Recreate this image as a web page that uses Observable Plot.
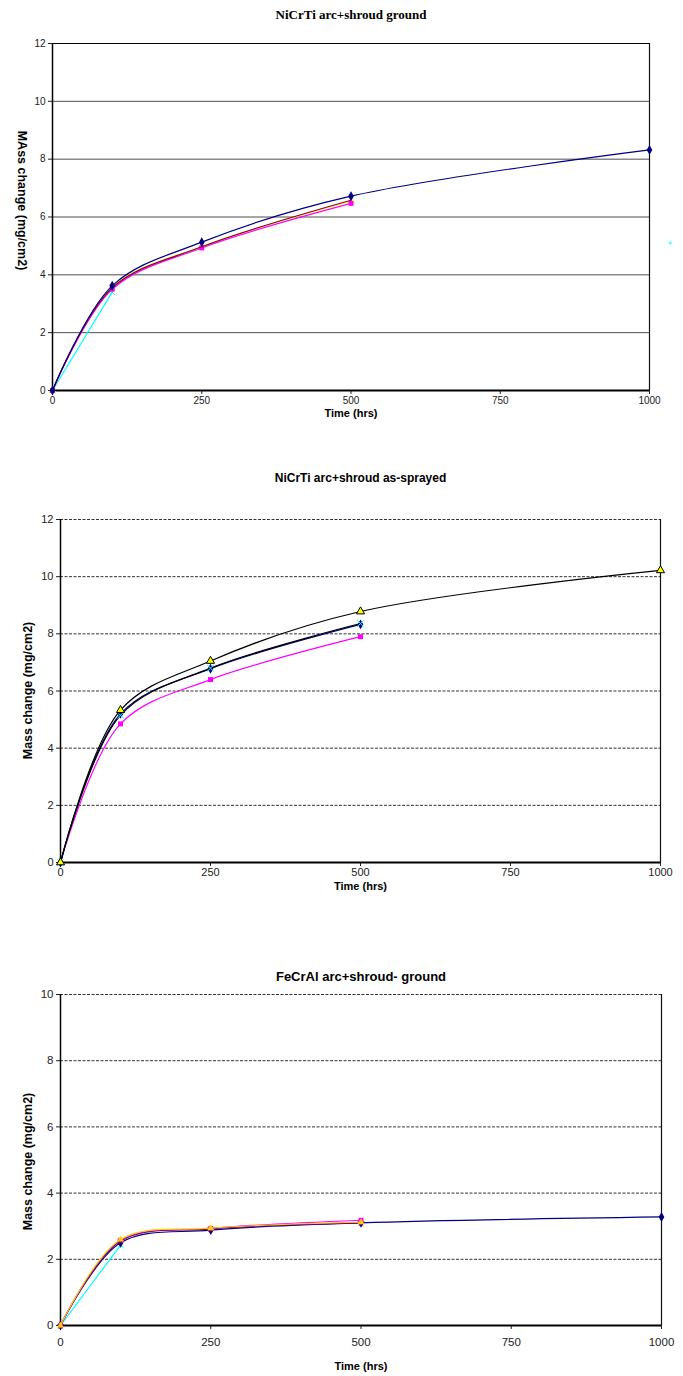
<!DOCTYPE html>
<html>
<head>
<meta charset="utf-8">
<script src="https://cdn.jsdelivr.net/npm/d3@7"></script>
<script src="https://cdn.jsdelivr.net/npm/@observablehq/plot@0.6"></script>
<style>
  html, body { margin: 0; padding: 0; background: #fff; }
  #page { position: relative; width: 683px; height: 1376px; overflow: hidden; }
  .chart { position: absolute; left: 0; }
</style>
</head>
<body>
<div id="page"></div>
<script>
// ---- data ----
const times = [0, 100, 250, 500, 1000];
const xTicks = [0, 250, 500, 750, 1000];

// Chart 1: NiCrTi arc+shroud ground
const c1Title = "NiCrTi arc+shroud ground";
const c1YLabel = "MAss change (mg/cm2)";
const c1YTicks = [0, 2, 4, 6, 8, 10, 12];
const c1Navy = [0, 3.62, 5.13, 6.72, 8.32];
const c1Purple = [0, 3.55, 4.97, 6.58];
const c1Yellow = [0, 3.57, 4.98, 6.55];
const c1Magenta = [0, 3.5, 4.93, 6.47];
const c1Cyan = [0, 3.4];
const c1CyanStray = [[1035, 5.1]];

// Chart 2: NiCrTi arc+shroud as-sprayed
const c2Title = "NiCrTi arc+shroud as-sprayed";
const c2YLabel = "Mass change (mg/cm2)";
const c2YTicks = [0, 2, 4, 6, 8, 10, 12];
const c2Black = [0, 5.33, 7.05, 8.78, 10.22];
const c2Navy = [0, 5.2, 6.78, 8.33];
const c2Cyan = [0, 5.15, 6.8, 8.36];
const c2Magenta = [0, 4.85, 6.4, 7.9];

// Chart 3: FeCrAl arc+shroud- ground
const c3Title = "FeCrAl arc+shroud- ground";
const c3YLabel = "Mass change (mg/cm2)";
const c3YTicks = [0, 2, 4, 6, 8, 10];
const c3Yellow = [0, 2.6, 2.94, 3.12];
const c3Purple = [0, 2.55, 2.92, 3.1];
const c3Magenta = [0, 2.57, 2.93, 3.18];
const c3Navy = [0, 2.5, 2.88, 3.1, 3.28];
const c3Cyan = [0, 2.43];

const xLabel = "Time (hrs)";

// ---- helpers ----
const tbl = vals => vals.map((v, i) => ({t: times[i], v}));
const SYM = {
  diamond: d3.symbolDiamond,
  square: d3.symbolSquare,
  triangle: d3.symbolTriangle,
  times: d3.symbolTimes || d3.symbolCross,
  star: d3.symbolStar
};

function series(vals, o) {
  const data = tbl(vals);
  const marks = [
    Plot.line(data, {x: "t", y: "v", stroke: o.stroke, strokeWidth: o.sw || 1.2,
      curve: o.curve || "catmull-rom"})
  ];
  if (o.symbol) {
    marks.push(Plot.dot(data, {x: "t", y: "v", symbol: SYM[o.symbol], r: o.r || 2.8,
      fill: o.fill === undefined ? o.stroke : o.fill,
      stroke: o.mstroke || "none", strokeWidth: 1}));
  }
  return marks;
}

const page = document.getElementById("page");

function chart(cfg) {
  const mt = 60, mb = 60;
  const H = cfg.bottom - cfg.top + mt + mb;
  const grid = cfg.solidGrid
    ? Plot.ruleY(cfg.yTicks.filter(d => d > 0), {stroke: "#111", strokeWidth: 1, strokeOpacity: 0.75})
    : Plot.ruleY(cfg.yTicks.filter(d => d > 0), {stroke: "#333", strokeWidth: 1, strokeDasharray: "3,1.5"});
  const svg = Plot.plot({
    width: 683,
    height: H,
    marginLeft: cfg.left,
    marginRight: 683 - cfg.right,
    marginTop: mt,
    marginBottom: mb,
    style: {fontFamily: "'Liberation Sans', Arial, sans-serif", fontSize: cfg.tickFont + "px", color: "#222", background: "white"},
    x: {domain: [0, 1000], ticks: xTicks, tickSize: 4, tickPadding: cfg.xTickPad, label: null, tickFormat: d => String(d)},
    y: {domain: [0, cfg.ymax], ticks: cfg.yTicks, tickSize: 4, tickPadding: 3, label: null, tickFormat: d => String(d)},
    marks: [
      grid,
      cfg.solidGrid ? Plot.ruleY([cfg.ymax], {stroke: "#000", strokeWidth: 1.2}) : null,
      Plot.ruleX([1000], {stroke: "#111", strokeWidth: 1.2}),
      Plot.ruleX([0], {stroke: "#000", strokeWidth: 1.5}),
      Plot.ruleY([0], {stroke: "#000", strokeWidth: 2}),
      ...cfg.marks,
      Plot.text([cfg.title], {frameAnchor: "top", lineAnchor: "middle", textAnchor: "middle",
        dy: cfg.titleY - cfg.top, text: d => d,
        fontFamily: cfg.titleFont, fontWeight: "bold", fontSize: cfg.titleSize, fill: "#000"}),
      Plot.text([cfg.ylabel], {frameAnchor: "left", lineAnchor: "middle", textAnchor: "middle",
        dx: cfg.ylabX - cfg.left, dy: cfg.ylabY - (cfg.top + cfg.bottom) / 2,
        rotate: cfg.ylabRot, text: d => d, fontWeight: "bold", fontSize: 12.5, fill: "#000"}),
      Plot.text([xLabel], {frameAnchor: "bottom", lineAnchor: "middle", textAnchor: "middle",
        dy: cfg.xlabY - cfg.bottom, text: d => d,
        fontWeight: "bold", fontSize: 11, fill: "#000"})
    ]
  });
  const div = document.createElement("div");
  div.className = "chart";
  div.style.top = (cfg.top - mt) + "px";
  div.appendChild(svg);
  page.appendChild(div);
}

// ---- chart 1 ----
chart({
  top: 43, bottom: 390, left: 52, right: 649, ymax: 12, yTicks: c1YTicks,
  solidGrid: true, tickFont: 10, xTickPad: 2,
  title: c1Title, titleY: 14, titleFont: "'Liberation Serif', 'Times New Roman', serif", titleSize: 13,
  ylabel: c1YLabel, ylabX: 21, ylabY: 200, ylabRot: 90, xlabY: 413,
  marks: [
    ...series(c1Cyan, {stroke: "#00FFFF", curve: "linear", symbol: "times", fill: "none", mstroke: "#00FFFF", r: 2.5}),
    ...series(c1Yellow, {stroke: "#FFFF00", symbol: "triangle"}),
    ...series(c1Magenta, {stroke: "#FF00FF", symbol: "square", r: 2.8}),
    ...series(c1Purple, {stroke: "#800040", symbol: null}),
    ...series(c1Navy, {stroke: "#000080", symbol: "diamond", r: 3}),
    Plot.dot(c1CyanStray, {x: d => d[0], y: d => d[1], symbol: SYM.times, r: 1.5, stroke: "#00FFFF", strokeWidth: 1})
  ]
});

// ---- chart 2 ----
chart({
  top: 519, bottom: 862, left: 60, right: 660, ymax: 12, yTicks: c2YTicks,
  solidGrid: false, tickFont: 11, xTickPad: 2,
  title: c2Title, titleY: 478, titleFont: "'Liberation Sans', Arial, sans-serif", titleSize: 12,
  ylabel: c2YLabel, ylabX: 27, ylabY: 690, ylabRot: -90, xlabY: 886,
  marks: [
    ...series(c2Magenta, {stroke: "#FF00FF", symbol: "square", r: 2.8}),
    ...series(c2Navy, {stroke: "#000080", symbol: "diamond", r: 3}),
    ...series(c2Cyan, {stroke: "#000000", symbol: "times", fill: "none", mstroke: "#00FFFF", r: 3}),
    ...series(c2Black, {stroke: "#000000", symbol: "triangle", fill: "#FFFF00", mstroke: "#000", r: 3})
  ]
});

// ---- chart 3 ----
chart({
  top: 994, bottom: 1325, left: 60, right: 661, ymax: 10, yTicks: c3YTicks,
  solidGrid: false, tickFont: 11.5, xTickPad: 8,
  title: c3Title, titleY: 976, titleFont: "'Liberation Sans', Arial, sans-serif", titleSize: 13,
  ylabel: c3YLabel, ylabX: 27, ylabY: 1161, ylabRot: -90, xlabY: 1366,
  marks: [
    ...series(c3Cyan, {stroke: "#00FFFF", curve: "linear", symbol: "times", fill: "none", mstroke: "#00FFFF", r: 2.5}),
    ...series(c3Navy, {stroke: "#000080", symbol: "diamond", r: 3}),
    ...series(c3Magenta, {stroke: "#FF00FF", symbol: "square", r: 2.8}),
    ...series(c3Purple, {stroke: "#800080", symbol: "star", r: 2.5}),
    ...series(c3Yellow, {stroke: "#FFCC00", symbol: "triangle", r: 2.5})
  ]
});
</script>
</body>
</html>
